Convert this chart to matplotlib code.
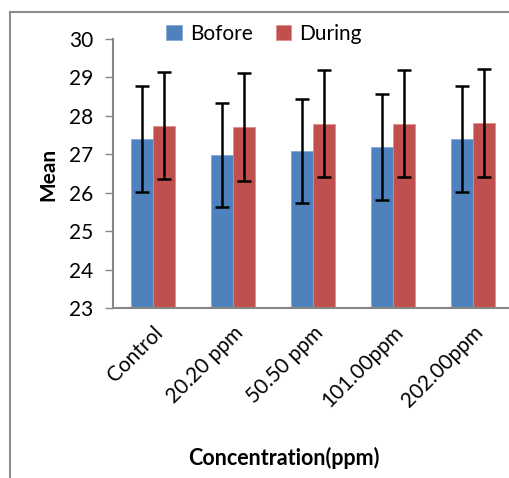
import matplotlib
matplotlib.use("Agg")
import matplotlib.pyplot as plt
from matplotlib.lines import Line2D
import numpy as np

categories = ["Control", "20.20 ppm", "50.50 ppm", "101.00ppm", "202.00ppm"]
before = [27.40, 26.99, 27.09, 27.19, 27.40]
before_err = [1.37, 1.35, 1.36, 1.37, 1.37]
during = [27.75, 27.72, 27.80, 27.80, 27.82]
during_err = [1.40, 1.40, 1.40, 1.40, 1.40]
series_names = ["Bofore", "During"]

plt.rcParams['font.family'] = ['Lato', 'DejaVu Sans']

W, H = 510, 478
fig = plt.figure(figsize=(W / 100, H / 100), dpi=100)

ax_left, ax_right = 113, 513
ax_top, ax_bot = 39, 308.3
ax = fig.add_axes([ax_left / W, 1 - ax_bot / H, (ax_right - ax_left) / W, (ax_bot - ax_top) / H])

x = np.arange(len(categories))
bw = 0.28
ekw = dict(ecolor="black", elinewidth=1.8, capsize=5, capthick=1.8)
ax.bar(x - bw / 2, before, bw, color="#4F81BD", edgecolor="#7FA3D3", linewidth=0.5,
       yerr=before_err, error_kw=ekw, label=series_names[0])
ax.bar(x + bw / 2, during, bw, color="#C0504D", edgecolor="#E08A88", linewidth=0.5,
       yerr=during_err, error_kw=ekw, label=series_names[1])

ax.set_ylim(23, 30)
ax.set_xlim(-0.5, len(categories) - 0.5)
ax.set_yticks(range(23, 31))
ax.tick_params(axis="y", direction="out", length=6, width=1, color="#868686", labelsize=15, pad=8)
ax.tick_params(axis="x", length=0, labelsize=15, pad=10)
ax.set_xticks(x)
ax.set_xticklabels(categories, rotation=45, ha="right", rotation_mode="anchor")
for s in ["top", "right"]:
    ax.spines[s].set_visible(False)
for s in ["left", "bottom"]:
    ax.spines[s].set_color("#868686")
    ax.spines[s].set_linewidth(1.5)

fig.text(48 / W, 1 - 174 / H, "Mean", rotation=90, ha="center", va="center", fontsize=15, fontweight="bold")
fig.text(284 / W, 1 - 458 / H, "Concentration(ppm)", ha="center", va="center", fontsize=15.5, fontweight="bold")

fig.legend(loc="center", bbox_to_anchor=(264 / W, 1 - 34 / H), ncol=2, frameon=False,
           fontsize=15, handlelength=0.75, handleheight=0.75, handletextpad=0.4, columnspacing=1.1,
           borderpad=0)

# outer chart frame (cropped)
fig.add_artist(Line2D([10 / W, 1], [1 - 12 / H, 1 - 12 / H], transform=fig.transFigure, color="#8C8C8C", lw=1.5))
fig.add_artist(Line2D([10 / W, 10 / W], [0, 1 - 12 / H], transform=fig.transFigure, color="#8C8C8C", lw=1.5))

fig.savefig("out.png", dpi=100)
